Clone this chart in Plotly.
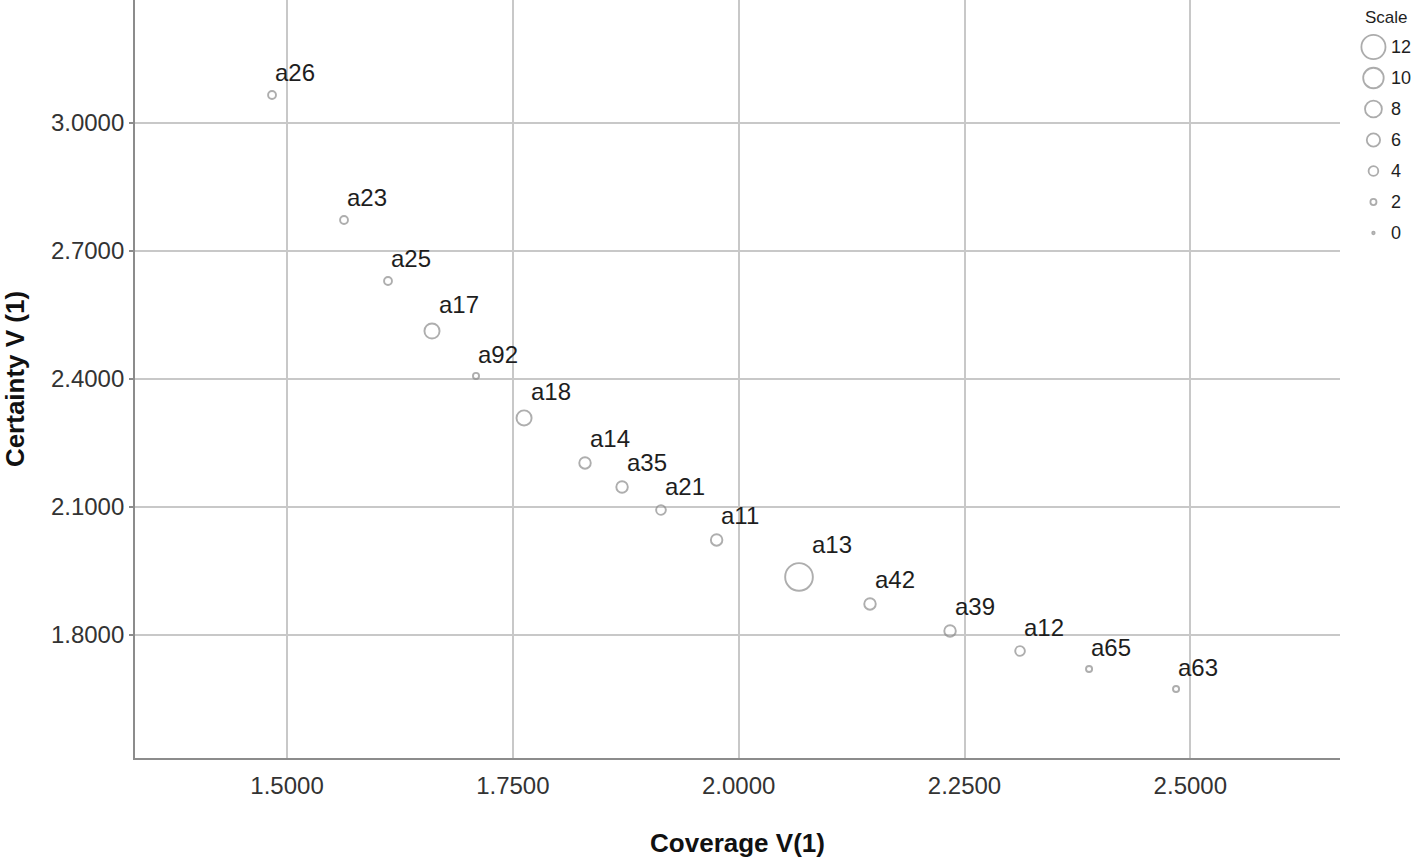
import plotly.graph_objects as go

# ---- data ----
labels = ["a26", "a23", "a25", "a17", "a92", "a18", "a14", "a35", "a21", "a11",
          "a13", "a42", "a39", "a12", "a65", "a63"]
coverage = [1.4834, 1.5631, 1.6118, 1.6605, 1.7092, 1.7624, 1.8299, 1.8709, 1.9140, 1.9756,
            2.0668, 2.1454, 2.2340, 2.3115, 2.3879, 2.4842]
certainty = [3.0656, 2.7727, 2.6297, 2.5125, 2.4071, 2.3087, 2.2032, 2.1469, 2.0930, 2.0227,
             1.9360, 1.8727, 1.8094, 1.7625, 1.7203, 1.6734]
scale = [3, 3, 3, 7, 2, 7, 5, 5, 4, 5, 14, 5, 5, 4, 2, 2]

legend_values = [12, 10, 8, 6, 4, 2, 0]
x_ticks = [1.5, 1.75, 2.0, 2.25, 2.5]
y_ticks = [1.8, 2.1, 2.4, 2.7, 3.0]

FONT = "Liberation Sans, Arial, sans-serif"


def diam(v):
    return 2.5 + 1.8 * v


fig = go.Figure()

fig.add_trace(go.Scatter(
    x=coverage, y=certainty, mode="markers",
    marker=dict(size=[diam(v) for v in scale], color="rgba(0,0,0,0)",
                line=dict(color="#8c8c8c", width=1.9)),
    hoverinfo="text", text=labels, showlegend=False,
    xaxis="x", yaxis="y", cliponaxis=False,
))

# point labels
for lab, xv, yv, s in zip(labels, coverage, certainty, scale):
    r = diam(s) / 2
    fig.add_annotation(x=xv, y=yv, xref="x", yref="y", text=lab, showarrow=False,
                       xanchor="left", yanchor="bottom", xshift=r - 3, yshift=r + 3,
                       font=dict(family=FONT, size=24, color="#1e1e1e"))

# size legend drawn on a small auxiliary axis
rows = list(range(len(legend_values)))
fig.add_trace(go.Scatter(
    x=[0.44] * len(legend_values), y=rows, mode="markers",
    marker=dict(size=[diam(v) for v in legend_values], color="rgba(0,0,0,0)",
                line=dict(color="#8a8a8a", width=1.8)),
    hoverinfo="skip", showlegend=False, xaxis="x2", yaxis="y2", cliponaxis=False,
))
for v, rw in zip(legend_values, rows):
    fig.add_annotation(x=0.44, y=rw, xref="x2", yref="y2", text=str(v), showarrow=False,
                       xanchor="left", yanchor="middle", xshift=16,
                       font=dict(family=FONT, size=18, color="#1e1e1e"))
fig.add_annotation(x=0.3, y=-0.95, xref="x2", yref="y2", text="Scale", showarrow=False,
                   xanchor="left", yanchor="middle",
                   font=dict(family=FONT, size=17, color="#1e1e1e"))

W, H = 1416, 858
L, R, T, B = 135, 0, 0, 100
plot_w = W - L - R
main_frac = (1340 - L) / plot_w

fig.update_layout(
    width=W, height=H,
    margin=dict(l=L, r=R, t=T, b=B),
    paper_bgcolor="white", plot_bgcolor="white",
    font=dict(family=FONT, color="#333333"),
    xaxis=dict(
        domain=[0, main_frac], range=[1.3317, 2.6657],
        tickvals=x_ticks, ticktext=[f"{v:.4f}" for v in x_ticks],
        tickfont=dict(size=24, color="#333333"),
        showgrid=True, gridcolor="#c8c8c8", gridwidth=1.8,
        showline=True, linecolor="#8c8c8c", linewidth=1.8,
        ticks="", zeroline=False, ticklabelstandoff=5,
        title=dict(text="<b>Coverage V(1)</b>", font=dict(size=26, color="#111111"), standoff=36),
    ),
    yaxis=dict(
        range=[1.5117, 3.2883],
        tickvals=y_ticks, ticktext=[f"{v:.4f}" for v in y_ticks],
        tickfont=dict(size=24, color="#333333"),
        showgrid=True, gridcolor="#c8c8c8", gridwidth=1.8,
        showline=True, linecolor="#8c8c8c", linewidth=1.8,
        ticks="outside", ticklen=4, tickcolor="#8c8c8c", tickwidth=1.5,
        zeroline=False, ticklabelstandoff=0,
        title=dict(text="<b>Certainty V (1)</b>", font=dict(size=26, color="#111111"), standoff=22),
    ),
    xaxis2=dict(domain=[main_frac, 1], range=[0, 1], visible=False, fixedrange=True),
    yaxis2=dict(domain=[1 - 250 / (H - B), 1], range=[6.548, -1.516], visible=False,
                fixedrange=True, anchor="x2"),
)

fig.write_html("out.html", config={"displayModeBar": False},
               post_script="document.body.style.margin='0';")
